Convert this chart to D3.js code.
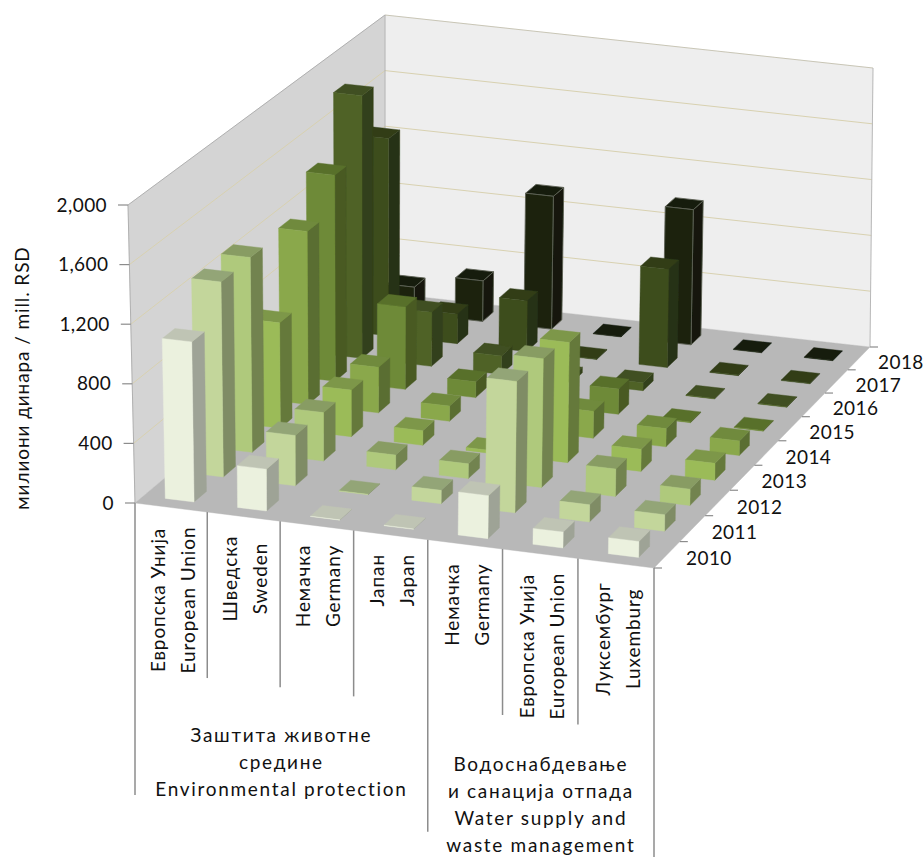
<!DOCTYPE html>
<html>
<head>
<meta charset="utf-8">
<style>
	html, body { margin: 0; padding: 0; background: #fff; }
	svg { display: block; }
	text { font-family: Lato, "Open Sans", sans-serif; fill: #111; }
</style>
<script src="https://cdn.jsdelivr.net/npm/d3@7/dist/d3.min.js"></script>
</head>
<body>
<div id="chart"></div>
<script>

// values in mill. RSD, one array per year, same order as categories
const categories = [
	['Европска Унија', 'European Union'],
	['Шведска', 'Sweden'],
	['Немачка', 'Germany'],
	['Јапан', 'Japan'],
	['Немачка', 'Germany'],
	['Европска Унија', 'European Union'],
	['Луксембург', 'Luxemburg']
];
const groups = [
	{ lines: ['Заштита  животне', 'средине', 'Environmental protection'], from: 0, to: 4 },
	{ lines: ['Водоснабдевање', 'и санација  отпада', 'Water supply and', 'waste management'], from: 4, to: 7 }
];
const years = ['2010', '2011', '2012', '2013', '2014', '2015', '2016', '2017', '2018'];
const yTicks = [0, 400, 800, 1200, 1600, 2000];

const v2010 = [1075, 280, 2, 3, 285, 105, 105];
const v2011 = [1320, 340, 3, 90, 880, 115, 110];
const v2012 = [1330, 330, 100, 100, 870, 185, 110];
const v2013 = [725, 320, 100, 20, 820, 150, 115];
const v2014 = [1200, 315, 105, 60, 185, 125, 100];
const v2015 = [1440, 575, 110, 60, 175, 5, 4];
const v2016 = [1850, 380, 130, 40, 55, 4, 4];
const v2017 = [1400, 210, 360, 4, 695, 4, 4];
const v2018 = [190, 290, 950, 3, 965, 3, 3];
const series = [v2010, v2011, v2012, v2013, v2014, v2015, v2016, v2017, v2018];

const frontColors = ['#ebf1de', '#c3d69b', '#afc97c', '#9bbb59', '#8aa84b', '#6e8a37', '#4f6228', '#3d4d1f', '#1b2310'];
const sideColors = ['#9ea396', '#7f8c65', '#72834f', '#65793a', '#5a6e31', '#485a24', '#33401a', '#283214', '#12180a'];
const topColors = ['#bfc4b4', '#93a577', '#889c63', '#7d9748', '#6f8a3c', '#58702c', '#3f4f20', '#303d18', '#141b0c'];

class Bar3D {

	constructor(options) {
		this.element = options.element;
		this.draw();
	}

	draw() {

		this.width = 923;
		this.height = 857;

		// corners of the plot box, as seen on the page
		this.floor = [[135, 503], [654, 568], [870, 347], [385, 293]];
		this.ceiling = [[128, 205], [658, 263], [873, 68], [385, 15]];

		this.createSVG();
		this.createScales();
		this.createWalls();
		this.createBars();
		this.createAxes();

	}

	createSVG() {
		this.svg = d3.select(this.element)
			.append('svg')
				.attr('width', this.width)
				.attr('height', this.height);

		// the source picture is a soft, scaled-up image
		this.svg.append('defs')
			.append('filter')
				.attr('id', 'soft')
				.append('feGaussianBlur')
					.attr('stdDeviation', 0.5);
	}

	// unit square -> quad, perspective
	homography(q) {
		const [[x0, y0], [x1, y1], [x2, y2], [x3, y3]] = q;
		const dx1 = x1 - x2, dx2 = x3 - x2, sx = x0 - x1 + x2 - x3;
		const dy1 = y1 - y2, dy2 = y3 - y2, sy = y0 - y1 + y2 - y3;
		const det = dx1 * dy2 - dx2 * dy1;
		const g = (sx * dy2 - dx2 * sy) / det;
		const h = (dx1 * sy - sx * dy1) / det;
		const a = x1 - x0 + g * x1, b = x3 - x0 + h * x3;
		const d = y1 - y0 + g * y1, e = y3 - y0 + h * y3;
		return (u, v) => {
			const w = g * u + h * v + 1;
			return [(a * u + b * v + x0) / w, (d * u + e * v + y0) / w];
		};
	}

	createScales() {

		this.xScale = d3.scaleBand().domain(d3.range(categories.length)).range([0, 1])
			.paddingInner(0.6).paddingOuter(0.3);
		this.xStep = d3.scaleLinear().domain([0, categories.length]).range([0, 1]);

		this.yearScale = d3.scaleBand().domain(d3.range(years.length)).range([0, 1])
			.paddingInner(0.58).paddingOuter(0.29);
		this.yearStep = d3.scaleLinear().domain([0, years.length]).range([0, 1]);

		this.zScale = d3.scaleLinear().domain([0, 2000]).range([0, 1]);

		const low = this.homography(this.floor);
		const high = this.homography(this.ceiling);

		this.project = (u, v, value) => {
			const p = low(u, v), q = high(u, v), z = this.zScale(value);
			return [p[0] + (q[0] - p[0]) * z, p[1] + (q[1] - p[1]) * z];
		};

	}

	polygon(parent, points, fill, stroke) {
		return parent.append('polygon')
			.attr('points', points.map(d => d.join(',')).join(' '))
			.attr('fill', fill)
			.attr('stroke', stroke || fill)
			.attr('stroke-width', stroke ? 0.9 : 0.4)
			.attr('stroke-linejoin', 'round');
	}

	line(parent, a, b, color, width) {
		return parent.append('line')
			.attr('x1', a[0]).attr('y1', a[1])
			.attr('x2', b[0]).attr('y2', b[1])
			.attr('stroke', color)
			.attr('stroke-width', width);
	}

	createWalls() {

		const p = this.project, top = 2000;
		const walls = this.svg.append('g').attr('class', 'walls').attr('filter', 'url(#soft)');

		this.polygon(walls, [p(0, 0, 0), p(0, 0, top), p(0, 1, top), p(0, 1, 0)], '#d4d4d4');
		this.polygon(walls, [p(0, 1, 0), p(0, 1, top), p(1, 1, top), p(1, 1, 0)], '#eeeeee');
		this.polygon(walls, [p(0, 0, 0), p(1, 0, 0), p(1, 1, 0), p(0, 1, 0)], '#b8b8b8');

		yTicks.filter(d => d > 0).forEach(d => {
			const color = d === top ? '#c9c6b6' : '#d8d1b0';
			this.line(walls, p(0, 0, d), p(0, 1, d), d === top ? '#b0b0b0' : color, 1);
			this.line(walls, p(0, 1, d), p(1, 1, d), color, 1);
		});

		this.line(walls, p(0, 0, 0), p(0, 0, top), '#b0b0b0', 1);
		this.line(walls, p(0, 1, 0), p(0, 1, top), '#b0b0b0', 1);
		this.line(walls, p(1, 1, 0), p(1, 1, top), '#b8b8b8', 1);

	}

	createBars() {

		const p = this.project;
		this.bars = this.svg.append('g').attr('class', 'bars').attr('filter', 'url(#soft)');

		// back row first, left to right, so nearer bars cover the far ones
		d3.range(years.length - 1, -1, -1).forEach(y => {
			const v0 = this.yearScale(y), v1 = v0 + this.yearScale.bandwidth();
			categories.forEach((c, i) => {
				const u0 = this.xScale(i), u1 = u0 + this.xScale.bandwidth();
				const value = series[y][i];
				const outline = y === years.length - 1 && value > 100 ? '#5d6155' : null;
				const bar = this.bars.append('g');
				this.polygon(bar, [p(u1, v0, 0), p(u1, v1, 0), p(u1, v1, value), p(u1, v0, value)], sideColors[y], outline);
				this.polygon(bar, [p(u0, v0, value), p(u1, v0, value), p(u1, v1, value), p(u0, v1, value)], topColors[y], outline);
				this.polygon(bar, [p(u0, v0, 0), p(u1, v0, 0), p(u1, v0, value), p(u0, v0, value)], frontColors[y], outline);
			});
		});

	}

	createAxes() {

		const p = this.project;
		const axes = this.svg.append('g').attr('class', 'axes');
		const axisColor = '#8c8c8c';

		// value axis
		yTicks.forEach(d => {
			const [x, y] = p(0, 0, d);
			this.line(axes, [x - 10, y], [x, y], axisColor, 1.2);
			axes.append('text')
				.attr('x', x - 21)
				.attr('y', y)
				.attr('dy', '0.35em')
				.attr('text-anchor', 'end')
				.attr('font-size', 19)
				.attr('letter-spacing', 0.4)
				.text(d3.format(',')(d));
		});

		axes.append('text')
			.attr('transform', 'translate(29,378) rotate(-90)')
			.attr('text-anchor', 'middle')
			.attr('font-size', 19)
			.attr('letter-spacing', 0.9)
			.text('милиони динара / mill. RSD');

		// year axis
		d3.range(years.length + 1).forEach(y => {
			const a = p(1, this.yearStep(y), 0);
			this.line(axes, a, [a[0] + 8, a[1]], axisColor, 1.2);
		});

		years.forEach((d, y) => {
			const [x, yy] = p(1, this.yearStep(y + 0.5), 0);
			axes.append('text')
				.attr('x', x + 42)
				.attr('y', yy + 4)
				.attr('dy', '0.35em')
				.attr('text-anchor', 'middle')
				.attr('font-size', 19)
				.attr('letter-spacing', 0.4)
				.text(d);
		});

		// category ticks: short between categories, long at the group edges
		const groupEdges = new Set(groups.flatMap(g => [g.from, g.to]));
		d3.range(categories.length + 1).forEach(i => {
			const a = p(this.xStep(i), 0, 0);
			const length = groupEdges.has(i) ? 292 : 166;
			this.line(axes, a, [a[0], a[1] + length], axisColor, 1.5);
		});

		categories.forEach((lines, i) => {
			const [x, y] = p(this.xStep(i + 0.5), 0, 0);
			const label = axes.append('g');
			const texts = lines.map(d => label.append('text')
				.attr('text-anchor', 'middle')
				.attr('font-size', 19)
				.attr('letter-spacing', 0.9)
				.text(d));
			const longest = d3.max(texts, t => t.node().getComputedTextLength());
			texts.forEach((t, k) => {
				t.attr('transform', `translate(${x + 2 + (k === 0 ? -15 : 15)},${y + 19 + longest / 2}) rotate(-90)`)
					.attr('dy', '0.35em');
			});
		});

		groups.forEach(g => {
			const a = p(this.xStep(g.from), 0, 0), b = p(this.xStep(g.to), 0, 0);
			const x = (a[0] + b[0]) / 2, y = (a[1] + b[1]) / 2;
			g.lines.forEach((d, k) => {
				axes.append('text')
					.attr('x', x)
					.attr('y', y + 228 - 4 * g.lines.length + k * 27)
					.attr('dy', '0.25em')
					.attr('text-anchor', 'middle')
					.attr('font-size', 19)
					.attr('letter-spacing', 1.7)
					.text(d);
			});
		});

	}

}

new Bar3D({ element: document.querySelector('#chart') });

</script>
</body>
</html>
